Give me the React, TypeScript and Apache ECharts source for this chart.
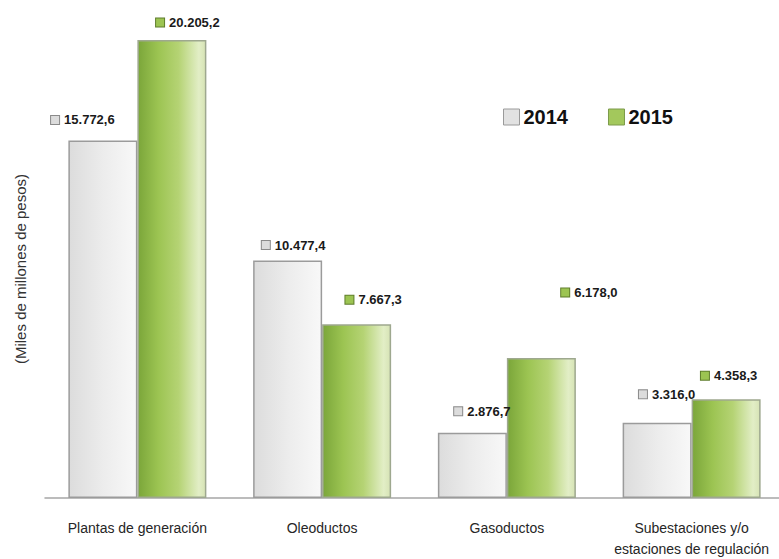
import React, { useEffect, useRef } from "react";
import * as echarts from "echarts";

const categories = [
  "Plantas de generación",
  "Oleoductos",
  "Gasoductos",
  "Subestaciones y/o\nestaciones de regulación",
];
const seriesNames = ["2014", "2015"];
const values2014 = [15772.6, 10477.4, 2876.7, 3316.0];
const values2015 = [20205.2, 7667.3, 6178.0, 4358.3];
const yAxisTitle = "(Miles de millones de pesos)";

// label nudges [dx, dy] per bar (layout only)
const labelShift2014: [number, number][] = [[-20, -9], [6, -4], [10, -10], [10, -17]];
const labelShift2015: [number, number][] = [[16, -6], [17, -13], [48, -54], [3, -12]];

function fmt(v: number): string {
  const [i, d] = v.toFixed(1).split(".");
  return i.replace(/\B(?=(\d{3})+(?!\d))/g, ".") + "," + d;
}

const FONT = "Liberation Sans";

const grad2014 = new echarts.graphic.LinearGradient(0, 0, 1, 0, [
  { offset: 0, color: "#dcdcdc" },
  { offset: 0.5, color: "#ececec" },
  { offset: 1, color: "#f8f8f8" },
]);
const grad2015 = new echarts.graphic.LinearGradient(0, 0, 1, 0, [
  { offset: 0, color: "#7ba63a" },
  { offset: 0.3, color: "#9cc452" },
  { offset: 0.6, color: "#b5d374" },
  { offset: 0.9, color: "#e2eec6" },
  { offset: 1, color: "#d6e3b5" },
]);

export default function App() {
  const ref = useRef<HTMLDivElement>(null);
  useEffect(() => {
    if (!ref.current) return;
    const chart = echarts.init(ref.current, undefined, { renderer: "svg" });
    const mkLabel = (shift: [number, number][], sq: string, sqBorder: string) =>
      (idx: number) => ({
        show: true,
        position: "top" as const,
        distance: 5,
        offset: shift[idx],
        formatter: (p: any) => "{sq|}{v|" + fmt(p.value) + "}",
        rich: {
          sq: {
            width: 8,
            height: 8,
            backgroundColor: sq,
            borderColor: sqBorder,
            borderWidth: 1,
          },
          v: {
            fontFamily: FONT,
            fontSize: 13,
            fontWeight: "bold",
            color: "#1a1a1a",
            padding: [0, 0, 0, 5],
          },
        },
      });
    const lab14 = mkLabel(labelShift2014, "#dcdcdc", "#8a8a8a");
    const lab15 = mkLabel(labelShift2015, "#9cc452", "#5f7d2c");
    chart.setOption({
      animation: false,
      backgroundColor: "#ffffff",
      grid: { left: 45, top: 40, width: 739, height: 460, containLabel: false },
      legend: {
        left: 498,
        top: 102,
        itemWidth: 16,
        itemHeight: 16,
        itemGap: 40,
        icon: "rect",
        textStyle: { fontFamily: FONT, fontSize: 20, fontWeight: "bold", color: "#111", padding: [0, 0, 0, -1] },
        data: [
          { name: "2014", itemStyle: { color: "#e2e2e2", borderColor: "#9a9a9a", borderWidth: 1 } },
          { name: "2015", itemStyle: { color: "#a3c85c", borderColor: "#7c9a4a", borderWidth: 1 } },
        ],
      },
      xAxis: {
        type: "category",
        data: categories,
        axisLine: { show: true, lineStyle: { color: "#a6a6a6", width: 1.5 } },
        axisTick: { show: false },
        axisLabel: {
          interval: 0,
          margin: 19,
          fontFamily: FONT,
          fontSize: 14,
          lineHeight: 21,
          color: "#262626",
        },
      },
      yAxis: {
        type: "value",
        min: 0,
        max: 20205.2,
        name: yAxisTitle,
        nameLocation: "middle",
        nameGap: 17,
        nameRotate: 90,
        nameTextStyle: { fontFamily: FONT, fontSize: 15, color: "#333" },
        axisLine: { show: false },
        axisTick: { show: false },
        axisLabel: { show: false },
        splitLine: { show: false },
      },
      series: [
        {
          name: seriesNames[0],
          type: "bar",
          barWidth: 69,
          barGap: "0%",
          itemStyle: { color: grad2014, borderColor: "#9b9b9b", borderWidth: 1.5 },
          data: values2014.map((v, i) => ({ value: v, label: lab14(i) })),
        },
        {
          name: seriesNames[1],
          type: "bar",
          barWidth: 69,
          barGap: "0%",
          itemStyle: { color: grad2015, borderColor: "#9ea88f", borderWidth: 1.5 },
          data: values2015.map((v, i) => ({ value: v, label: lab15(i) })),
        },
      ],
    });
    return () => chart.dispose();
  }, []);
  return (
    <div style={{ position: "fixed", left: 0, top: 0, width: 779, height: 559, overflow: "hidden" }}>
      <div ref={ref} style={{ width: 800, height: 559 }} />
    </div>
  );
}
